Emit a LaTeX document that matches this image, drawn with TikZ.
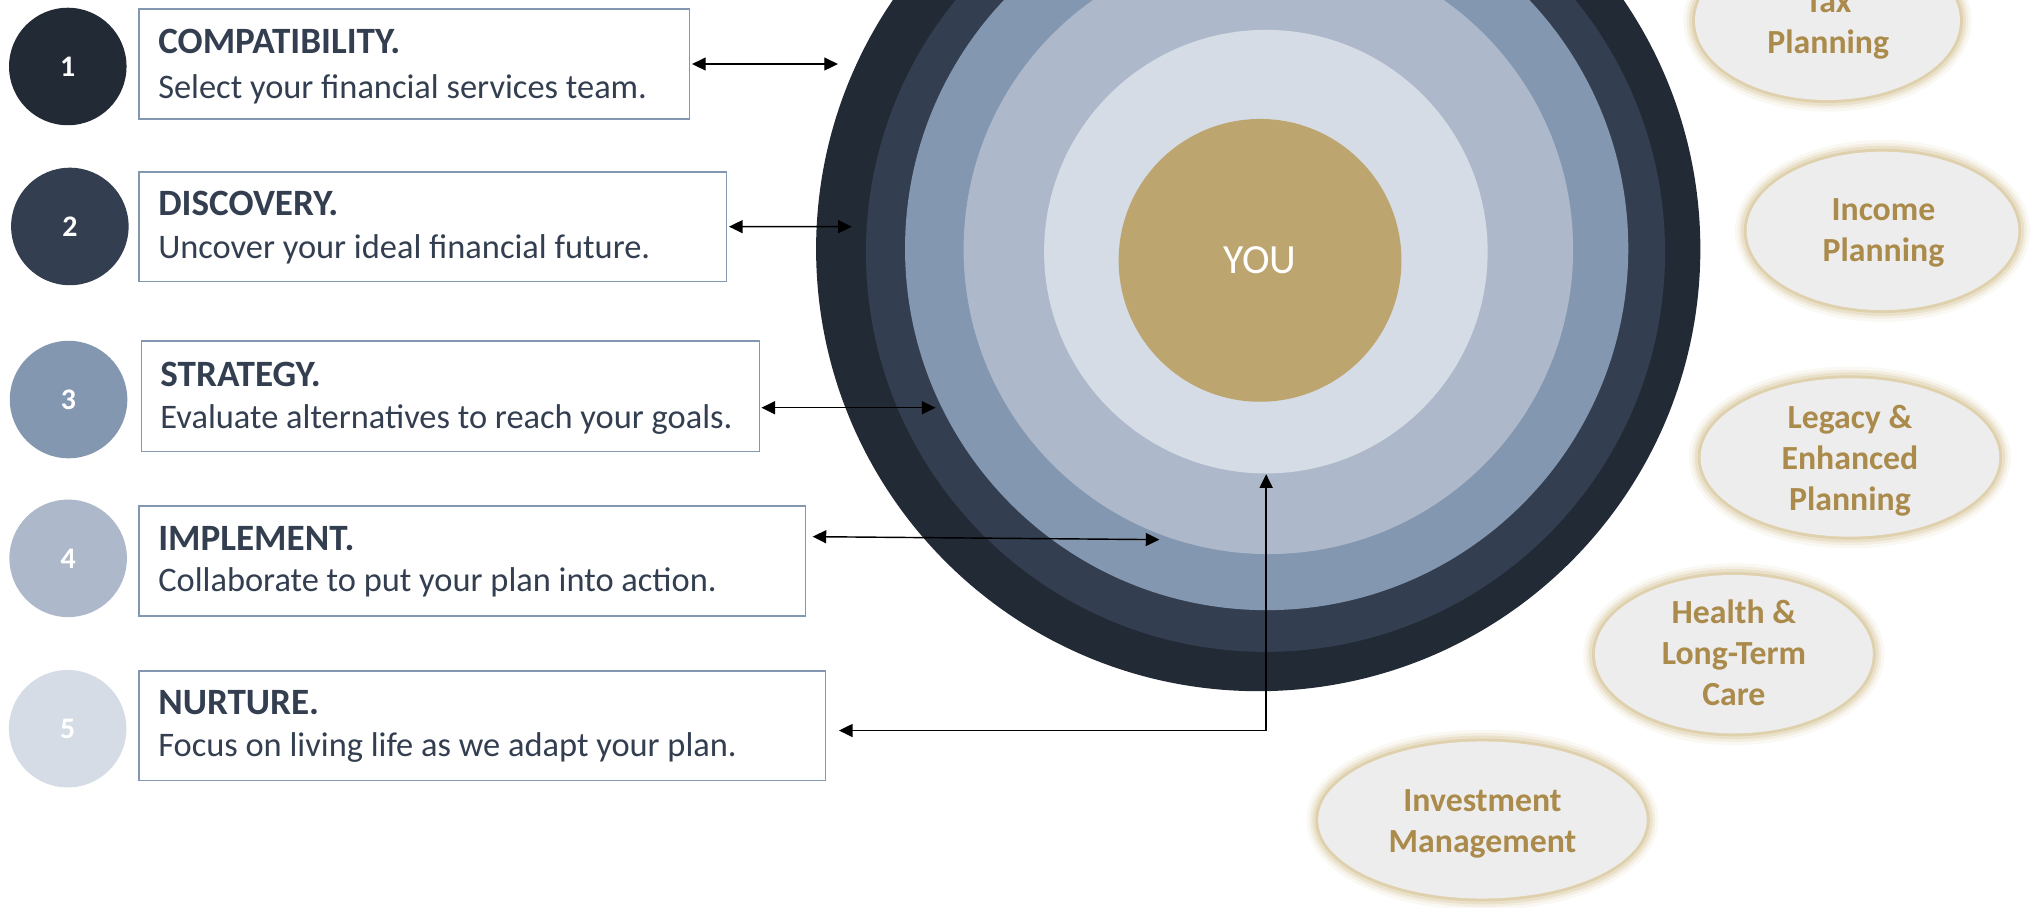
\documentclass[tikz,border=0pt]{standalone}
\usepackage{fontspec}
\setmainfont{Carlito}
\usetikzlibrary{shapes.geometric, arrows.meta}

\definecolor{navyA}{HTML}{222A35}
\definecolor{navyB}{HTML}{333F50}
\definecolor{slateC}{HTML}{8497B0}
\definecolor{slateD}{HTML}{ADB9CA}
\definecolor{slateE}{HTML}{D6DCE5}
\definecolor{goldY}{RGB}{189,165,111}
\definecolor{goldT}{RGB}{171,139,76}
\definecolor{ellfill}{HTML}{EDEDED}
\definecolor{glowc}{RGB}{214,196,150}
\definecolor{boxline}{HTML}{8497B0}
\definecolor{txt}{HTML}{333F50}

\begin{document}
\begin{tikzpicture}[x=1pt,y=-1pt,
  badge/.style={circle, minimum size=90.5pt, inner sep=0pt, outer sep=0pt, text=white,
    font=\fontsize{23}{27}\selectfont\bfseries},
  stepbox/.style={draw=boxline, line width=1.3pt, rectangle, inner sep=0pt, outer sep=0pt, fill=white},
  headtxt/.style={anchor=base west, inner sep=0pt, text=txt, font=\fontsize{28.6}{33}\selectfont\bfseries},
  desctxt/.style={anchor=base west, inner sep=0pt, text=txt, font=\fontsize{26.5}{32}\selectfont},
  ring/.style={circle, inner sep=0pt, outer sep=0pt, draw=none},
  link/.style={line width=1.1pt, {Triangle[length=10.5pt,width=10pt]}-{Triangle[length=10.5pt,width=10pt]}},
  service/.style={ellipse, inner sep=0pt, outer sep=0pt, fill=ellfill,
     preaction={draw=glowc!12, line width=18pt},
     preaction={draw=glowc!28, line width=13pt},
     preaction={draw=glowc!50, line width=9pt},
     preaction={draw=glowc!78, line width=4.5pt}},
  svctxt/.style={anchor=base, inner sep=0pt, text=goldT, font=\fontsize{26}{31.6}\selectfont\bfseries},
]
\useasboundingbox (0,0) rectangle (1568,699);
\fill[white] (0,0) rectangle (1568,699);

% concentric rings
\node[ring, fill=navyA, minimum size=681pt] (ring1) at (969,191.8) {};
\node[ring, fill=navyB, minimum size=615.4pt] (ring2) at (974.6,194.3) {};
\node[ring, fill=slateC, minimum size=557pt] (ring3) at (975.5,191.4) {};
\node[ring, fill=slateD, minimum size=469.4pt] (ring4) at (976.8,192) {};
\node[ring, fill=slateE, minimum size=341.6pt] (ring5) at (974.9,193.8) {};
\node[ring, fill=goldY, minimum size=217.8pt, text=white,
  font=\fontsize{32}{36}\selectfont] (you) at (970.4,200.5) {YOU};

% number badges
\node[badge, fill=navyA] (n1) at (52.2,51.2) {1};
\node[badge, fill=navyB] (n2) at (53.8,174.4) {2};
\node[badge, fill=slateC] (n3) at (52.8,307.7) {3};
\node[badge, fill=slateD] (n4) at (52.5,430) {4};
\node[badge, fill=slateE] (n5) at (52.1,561.2) {5};

% step boxes
\node[stepbox, minimum width=423.8pt, minimum height=84.8pt] (b1) at (319.1,49.3) {};
\node[stepbox, minimum width=452.2pt, minimum height=84.7pt] (b2) at (333.3,174.55) {};
\node[stepbox, minimum width=476pt, minimum height=85.2pt] (b3) at (346.9,305.2) {};
\node[stepbox, minimum width=513.1pt, minimum height=84.9pt] (b4) at (363.75,432.15) {};
\node[stepbox, minimum width=528.6pt, minimum height=84.5pt] (b5) at (371.5,558.75) {};

\node[headtxt] (h1) at ([xshift=14.5pt,yshift=-34.2pt]b1.north west) {COMPATIBILITY.};
\node[desctxt] (d1) at ([xshift=14.5pt,yshift=-69.3pt]b1.north west) {Select your financial services team.};
\node[headtxt] (h2) at ([xshift=14.5pt,yshift=-34.1pt]b2.north west) {DISCOVERY.};
\node[desctxt] (d2) at ([xshift=14.5pt,yshift=-66.7pt]b2.north west) {Uncover your ideal financial future.};
\node[headtxt] (h3) at ([xshift=14.5pt,yshift=-34.7pt]b3.north west) {STRATEGY.};
\node[desctxt] (d3) at ([xshift=14.5pt,yshift=-67.3pt]b3.north west) {Evaluate alternatives to reach your goals.};
\node[headtxt] (h4) at ([xshift=14.5pt,yshift=-33.9pt]b4.north west) {IMPLEMENT.};
\node[desctxt] (d4) at ([xshift=14.5pt,yshift=-66pt]b4.north west) {Collaborate to put your plan into action.};
\node[headtxt] (h5) at ([xshift=14.5pt,yshift=-34.1pt]b5.north west) {NURTURE.};
\node[desctxt] (d5) at ([xshift=14.5pt,yshift=-66.2pt]b5.north west) {Focus on living life as we adapt your plan.};

% connectors
\coordinate (e1) at (645.3,49.3);
\coordinate (e2) at (656,174.6);
\coordinate (e3) at (720.5,314);
\coordinate (e4) at (892.9,415.6);
\coordinate (e5) at (975.1,365.2);
\draw[link] ([xshift=2pt]b1.east) -- (e1);
\draw[link] ([xshift=2pt]b2.east) -- (e2);
\draw[link] ([xshift=1.5pt,yshift=-8.8pt]b3.east) -- (e3);
\draw[link] ([xshift=5.5pt,yshift=18.85pt]b4.east) -- (e4);
\draw[link] ([xshift=10.3pt,yshift=-3.85pt]b5.east) -| (e5);

% service ellipses
\node[service, minimum width=204pt, minimum height=122pt] (tax) at (1407.4,16) {};
\node[service, minimum width=209.2pt, minimum height=122pt] (inc) at (1449.8,177.8) {};
\node[service, minimum width=230pt, minimum height=122pt] (leg) at (1424.7,352.3) {};
\node[service, minimum width=214pt, minimum height=122pt] (hea) at (1335.3,503.8) {};
\node[service, minimum width=253pt, minimum height=121pt] (inv) at (1141.7,631.5) {};

\node[svctxt] (taxt) at ([xshift=0.6pt,yshift=6.5pt]tax.center) {\begin{tabular}[t]{@{}c@{}}Tax\\Planning\end{tabular}};
\node[svctxt] (inct) at ([xshift=0.7pt,yshift=7.8pt]inc.center) {\begin{tabular}[t]{@{}c@{}}Income\\Planning\end{tabular}};
\node[svctxt] (legt) at ([yshift=22.4pt]leg.center) {\begin{tabular}[t]{@{}c@{}}Legacy \&\\Enhanced\\Planning\end{tabular}};
\node[svctxt] (heat) at ([yshift=23.8pt]hea.center) {\begin{tabular}[t]{@{}c@{}}Health \&\\Long-Term\\Care\end{tabular}};
\node[svctxt] (invt) at ([yshift=6.4pt]inv.center) {\begin{tabular}[t]{@{}c@{}}Investment\\Management\end{tabular}};
\end{tikzpicture}
\end{document}
